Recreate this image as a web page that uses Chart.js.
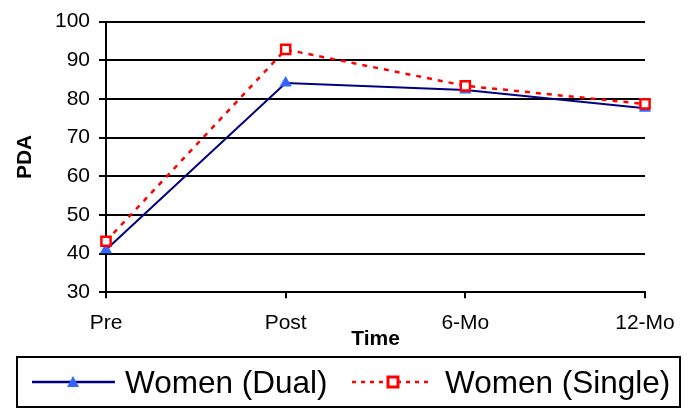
<!DOCTYPE html>
<html>
<head>
<meta charset="utf-8">
<script src="https://cdn.jsdelivr.net/npm/chart.js@4"></script>
<style>
  html, body { margin: 0; padding: 0; background: #fff; }
  #wrap { width: 689px; height: 415px; position: relative; }
</style>
</head>
<body>
<div id="wrap"><canvas id="c" width="689" height="415"></canvas></div>
<script>
const categories = ['Pre', 'Post', '6-Mo', '12-Mo'];
const womenDual = [41, 84.1, 82.3, 77.6];
const womenSingle = [43.2, 92.8, 83.4, 78.7];
const seriesNames = ['Women (Dual)', 'Women (Single)'];
const yTicks = [30, 40, 50, 60, 70, 80, 90, 100];

const FONT = "'Liberation Sans', Arial, sans-serif";
Chart.defaults.font.family = FONT;
Chart.defaults.color = '#000';

const legendPlugin = {
  id: 'boxLegend',
  afterDraw(chart) {
    const ctx = chart.ctx;
    ctx.save();
    ctx.strokeStyle = '#000';
    ctx.lineWidth = 2;
    ctx.strokeRect(17, 357, 663, 50);
    const ly = 382;
    ctx.strokeStyle = '#000080';
    ctx.lineWidth = 2.5;
    ctx.setLineDash([]);
    ctx.beginPath(); ctx.moveTo(32, ly); ctx.lineTo(115, ly); ctx.stroke();
    ctx.fillStyle = '#3366ff';
    ctx.beginPath();
    ctx.moveTo(73, ly - 6); ctx.lineTo(79, ly + 5); ctx.lineTo(67, ly + 5); ctx.closePath();
    ctx.fill();
    ctx.strokeStyle = '#ff0000';
    ctx.lineWidth = 2.5;
    ctx.setLineDash([4, 5]);
    ctx.beginPath(); ctx.moveTo(352, ly); ctx.lineTo(431, ly); ctx.stroke();
    ctx.setLineDash([]);
    ctx.fillStyle = '#fff';
    ctx.fillRect(388, ly - 5, 10, 10);
    ctx.lineWidth = 3;
    ctx.strokeRect(388, ly - 5, 10, 10);
    ctx.fillStyle = '#000';
    ctx.font = "31.5px " + FONT;
    ctx.textBaseline = 'alphabetic';
    ctx.textAlign = 'left';
    ctx.fillText(seriesNames[0], 125, 393);
    ctx.fillText(seriesNames[1], 445, 393);
    ctx.restore();
  }
};

new Chart(document.getElementById('c'), {
  type: 'line',
  data: {
    labels: categories,
    datasets: [
      {
        label: seriesNames[0],
        data: womenDual,
        borderColor: '#000080',
        borderWidth: 2,
        tension: 0,
        pointStyle: 'triangle',
        pointRadius: 7,
        pointBackgroundColor: '#3366ff',
        pointBorderColor: '#3366ff',
        pointBorderWidth: 0,
        order: 1
      },
      {
        label: seriesNames[1],
        data: womenSingle,
        borderColor: '#ff0000',
        borderWidth: 2.5,
        borderDash: [5, 6],
        tension: 0,
        pointStyle: 'rect',
        pointRadius: 6.5,
        pointBackgroundColor: '#ffffff',
        pointBorderColor: '#ff0000',
        pointBorderWidth: 2.5,
        order: 0
      }
    ]
  },
  options: {
    responsive: false,
    animation: false,
    layout: { padding: { left: 0, top: 16, right: 44, bottom: 62.7 } },
    plugins: { legend: { display: false }, tooltip: { enabled: false } },
    scales: {
      x: {
        offset: false,
        grid: { drawOnChartArea: false, drawTicks: true, tickLength: 6, color: '#000', lineWidth: 2 },
        border: { color: '#000', width: 2 },
        ticks: { font: { size: 21 }, padding: 12, color: '#000', maxRotation: 0 },
        title: { display: true, text: 'Time', font: { size: 21, weight: 'bold' }, padding: { top: 0, bottom: 0 }, color: '#000' },
        afterFit(scale) { scale.height = 60; }
      },
      y: {
        min: 30,
        max: 100,
        afterBuildTicks(scale) { scale.ticks = yTicks.map(v => ({ value: v })); },
        grid: { color: '#000', lineWidth: 2, tickLength: 7 },
        border: { color: '#000', width: 2 },
        ticks: { font: { size: 21 }, padding: 9, color: '#000' },
        title: { display: true, text: 'PDA', font: { size: 21, weight: 'bold' }, padding: { top: 13, bottom: 0 }, color: '#000' },
        afterFit(scale) { scale.width = 106; }
      }
    }
  },
  plugins: [legendPlugin]
});
</script>
</body>
</html>
